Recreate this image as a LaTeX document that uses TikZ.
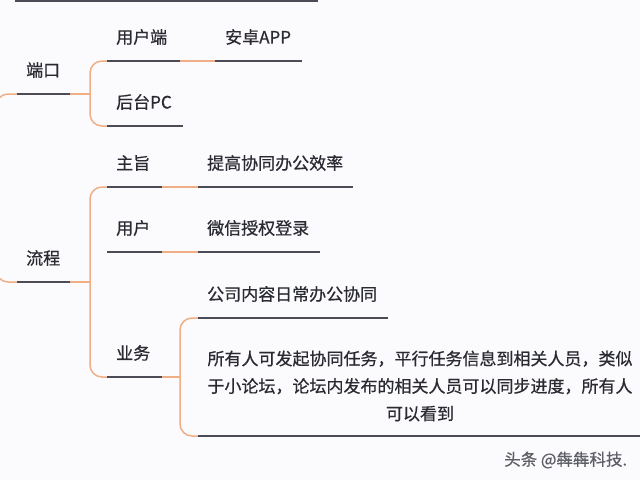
\documentclass[tikz,border=0pt]{standalone}
\usepackage{fontspec}
\setmainfont{Noto Sans CJK SC}[FakeBold=0.6,UprightFeatures={FakeBold=0.6}]
\begin{document}
\begin{tikzpicture}[x=1pt,y=-1pt,
  lbl/.style={inner sep=0pt,anchor=west,text=txt,font=\fontsize{17}{20}\selectfont},
  uline/.style={draw=ulc,line width=1.8pt},
  oline/.style={draw=orc,line width=1.5pt},
  ocurve/.style={draw=orc,line width=1.5pt,rounded corners=12pt}]
\definecolor{txt}{HTML}{2A2A32}
\definecolor{ulc}{HTML}{4C4C56}
\definecolor{orc}{HTML}{EFAE86}
\definecolor{bgc}{HTML}{FBFBFD}
\useasboundingbox[fill=bgc] (0,0) rectangle (640,480);

% text nodes
\node[lbl] (duankou) at (26,70) {端口};
\node[lbl] (yhd) at (116,37) {用户端};
\node[lbl] (app) at (225,37) {安卓APP};
\node[lbl] (htpc) at (116,102) {后台PC};
\node[lbl] (liucheng) at (26,258) {流程};
\node[lbl] (zhuzhi) at (116,163) {主旨};
\node[lbl] (tigao) at (207,163) {提高协同办公效率};
\node[lbl] (yonghu) at (116,228) {用户};
\node[lbl] (weixin) at (207,228) {微信授权登录};
\node[lbl] (yewu) at (116,353) {业务};
\node[lbl] (gongsi) at (207,294) {公司内容日常办公协同};
\node[inner sep=0pt,text=txt,font=\fontsize{17}{27.5}\selectfont,align=center] (big) at (420,386)
  {所有人可发起协同任务，平行任务信息到相关人员，类似\\于小论坛，论坛内发布的相关人员可以同步进度，所有人\\可以看到};
\node[inner sep=0pt,anchor=west,text=ulc!90,font=\fontsize{16.5}{19}\selectfont] (wm) at (504,460) {头条 @犇犇科技.};

% underline end points
\coordinate (top-a) at (15,0.8);   \coordinate (top-b) at (318,0.8);
\coordinate (dk-a) at (17,94);     \coordinate (dk-b) at (70,94);   \coordinate (dk-j) at (90,94);
\coordinate (yhd-a) at (107,61);   \coordinate (yhd-b) at (180,61);
\coordinate (app-a) at (215,61);   \coordinate (app-b) at (302,61);
\coordinate (ht-a) at (107,126);   \coordinate (ht-b) at (183,126);
\coordinate (lc-a) at (17,282);    \coordinate (lc-b) at (70,282);  \coordinate (lc-j) at (90,282);
\coordinate (zz-a) at (107,187);   \coordinate (zz-b) at (162,187);
\coordinate (tg-a) at (198,187);   \coordinate (tg-b) at (353,187);
\coordinate (yh-a) at (107,252);   \coordinate (yh-b) at (162,252);
\coordinate (wx-a) at (198,252);   \coordinate (wx-b) at (320,252);
\coordinate (yw-a) at (107,377);   \coordinate (yw-b) at (162,377); \coordinate (yw-j) at (180,377);
\coordinate (gs-a) at (198,318);   \coordinate (gs-b) at (388,318);
\coordinate (bg-a) at (198,436);   \coordinate (bg-b) at (642,436);

% orange connectors
\draw[ocurve] (dk-a) -- (-4,94) -- (-4,282) -- (lc-a);
\draw[oline] (dk-b) -- (dk-j);
\draw[ocurve] (yhd-a) -- (dk-j |- yhd-a) -- (dk-j |- ht-a) -- (ht-a);
\draw[oline] (yhd-b) -- (app-a);
\draw[oline] (lc-b) -- (lc-j);
\draw[ocurve] (zz-a) -- (lc-j |- zz-a) -- (lc-j |- yw-a) -- (yw-a);
\draw[oline] (zz-b) -- (tg-a);
\draw[oline] (yh-b) -- (wx-a);
\draw[oline] (yw-b) -- (yw-j);
\draw[ocurve] (gs-a) -- (yw-j |- gs-a) -- (yw-j |- bg-a) -- (bg-a);

% underlines
\draw[uline] (top-a) -- (top-b);
\draw[uline] (dk-a) -- (dk-b);
\draw[uline] (yhd-a) -- (yhd-b);
\draw[uline] (app-a) -- (app-b);
\draw[uline] (ht-a) -- (ht-b);
\draw[uline] (lc-a) -- (lc-b);
\draw[uline] (zz-a) -- (zz-b);
\draw[uline] (tg-a) -- (tg-b);
\draw[uline] (yh-a) -- (yh-b);
\draw[uline] (wx-a) -- (wx-b);
\draw[uline] (yw-a) -- (yw-b);
\draw[uline] (gs-a) -- (gs-b);
\draw[uline] (bg-a) -- (bg-b);
\end{tikzpicture}
\end{document}
